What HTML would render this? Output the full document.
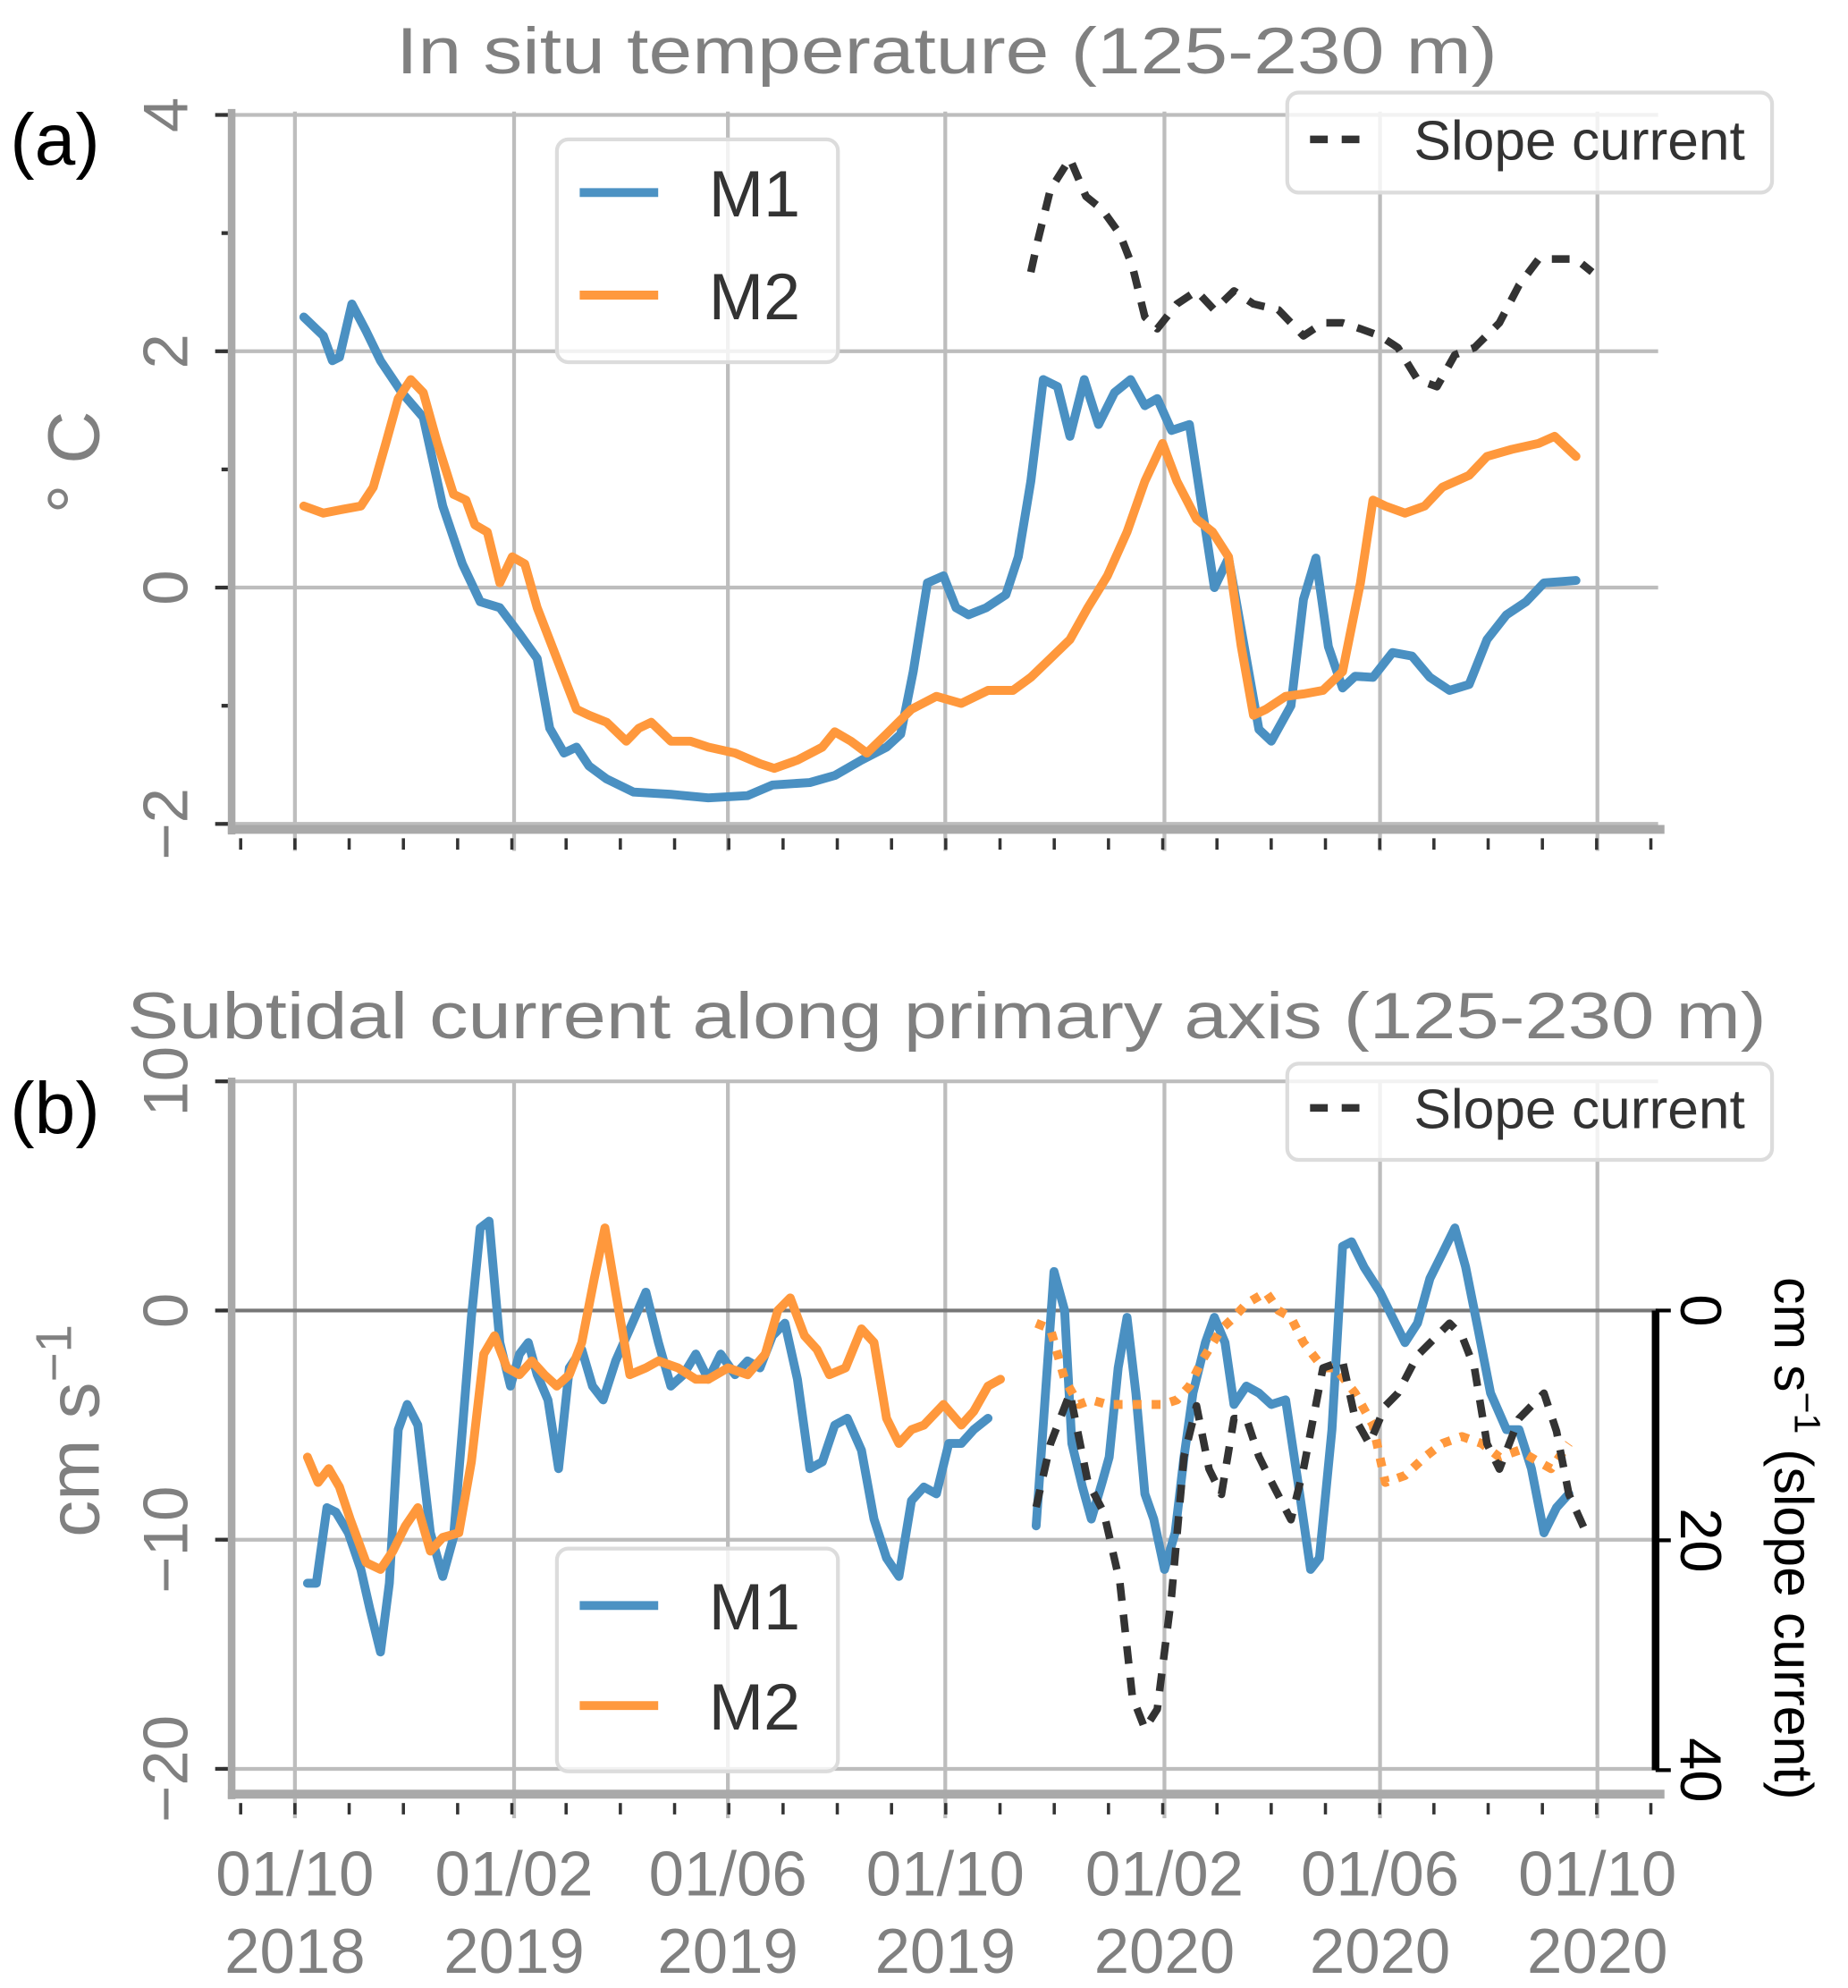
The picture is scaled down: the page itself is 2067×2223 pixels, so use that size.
<!DOCTYPE html>
<html><head><meta charset="utf-8"><style>
html,body{margin:0;padding:0;background:#fff}
svg{display:block;font-family:"Liberation Sans",Arial,sans-serif}
</style></head><body>
<svg id="chart" width="2067" height="2223" viewBox="0 0 1460 1570" xmlns="http://www.w3.org/2000/svg">
<rect x="0" y="0" width="1460" height="1570" fill="#fff"/>
<g id="grid"></g>
<g id="series"></g>
<g id="axes"></g>
<g id="labels">
<text x="748" y="58" font-size="52" fill="#808080" text-anchor="middle" textLength="870" lengthAdjust="spacingAndGlyphs">In situ temperature (125-230 m)</text>
<text x="748" y="820" font-size="52" fill="#808080" text-anchor="middle" textLength="1295" lengthAdjust="spacingAndGlyphs">Subtidal current along primary axis (125-230 m)</text>
<text x="8" y="130" font-size="58" fill="#000">(a)</text>
<text x="8" y="895" font-size="58" fill="#000">(b)</text>
<text transform="translate(78,365) rotate(-90)" font-size="58" fill="#808080" text-anchor="middle">° C</text>
<text transform="translate(78,1130) rotate(-90)" font-size="58" fill="#808080" text-anchor="middle">cm s<tspan dy="-22" font-size="40">−1</tspan></text>
<text transform="translate(1402,1215) rotate(90)" font-size="43" fill="#000" text-anchor="middle">cm s<tspan dy="-16" font-size="29">−1</tspan><tspan dy="16"> (slope current)</tspan></text>
</g>
<g id="legends">
<g>
<rect x="440" y="110" width="222" height="176" rx="9" fill="#fff" fill-opacity="0.8" stroke="#dcdcdc" stroke-width="3"/>
<line x1="458" y1="152" x2="520" y2="152" stroke="#4c92c3" stroke-width="7"/>
<text x="560" y="171" font-size="52" fill="#333">M1</text>
<line x1="458" y1="233" x2="520" y2="233" stroke="#ff993e" stroke-width="7"/>
<text x="560" y="252" font-size="52" fill="#333">M2</text>
</g>
<g>
<rect x="1017" y="73" width="383" height="79" rx="9" fill="#fff" fill-opacity="0.8" stroke="#dcdcdc" stroke-width="3"/>
<line x1="1035" y1="110" x2="1077" y2="110" stroke="#333" stroke-width="6" stroke-dasharray="14,11"/>
<text x="1117" y="126" font-size="44" fill="#333">Slope current</text>
</g>
<g>
<rect x="440" y="1223" width="222" height="176" rx="9" fill="#fff" fill-opacity="0.8" stroke="#dcdcdc" stroke-width="3"/>
<line x1="458" y1="1268" x2="520" y2="1268" stroke="#4c92c3" stroke-width="7"/>
<text x="560" y="1287" font-size="52" fill="#333">M1</text>
<line x1="458" y1="1347" x2="520" y2="1347" stroke="#ff993e" stroke-width="7"/>
<text x="560" y="1366" font-size="52" fill="#333">M2</text>
</g>
<g>
<rect x="1017" y="840" width="383" height="76" rx="9" fill="#fff" fill-opacity="0.8" stroke="#dcdcdc" stroke-width="3"/>
<line x1="1035" y1="875" x2="1077" y2="875" stroke="#333" stroke-width="6" stroke-dasharray="14,11"/>
<text x="1117" y="891" font-size="44" fill="#333">Slope current</text>
</g>
</g>
</svg>
<script>
// ---- data (days since 2018-10-01) ----
const xTickDays = [0,123,243,365,488,609,731];
const xTickTop = ["01/10","01/02","01/06","01/10","01/02","01/06","01/10"];
const xTickBottom = ["2018","2019","2019","2019","2020","2020","2020"];
const yTicksA = [4,2,0,-2];
const yTickLabelsA = ["4","2","0","−2"];
const yTicksB = [10,0,-10,-20];
const yTickLabelsB = ["10","0","−10","−20"];
const rightTicks = [0,20,40];

const m1TempDays = [5,16,21,25,32,40,48,60,72,83,94,104,115,126,136,143,151,158,165,175,190,211,232,254,268,289,303,318,332,340,347,355,364,371,378,388,399,406,413,420,428,435,443,451,460,469,477,484,492,502,509,516,524,534,541,548,559,566,573,580,588,595,605,616,627,637,648,659,669,680,691,701,719];
const m1Temp = [2.29,2.13,1.92,1.95,2.4,2.17,1.92,1.65,1.44,0.69,0.2,-0.12,-0.17,-0.39,-0.6,-1.19,-1.4,-1.35,-1.51,-1.62,-1.73,-1.75,-1.78,-1.76,-1.67,-1.65,-1.59,-1.46,-1.35,-1.24,-0.71,0.04,0.1,-0.17,-0.23,-0.17,-0.06,0.26,0.9,1.76,1.7,1.28,1.76,1.38,1.65,1.76,1.54,1.6,1.33,1.38,0.69,0.0,0.25,-0.6,-1.2,-1.3,-1.0,-0.1,0.25,-0.5,-0.85,-0.75,-0.76,-0.55,-0.58,-0.76,-0.87,-0.82,-0.44,-0.23,-0.12,0.04,0.06];
const m2TempDays = [5,16,26,37,44,51,58,65,72,80,89,96,101,108,115,122,129,136,147,158,165,175,186,193,200,211,222,232,247,261,269,282,296,303,312,321,332,346,360,374,389,403,413,424,435,445,456,467,477,487,495,506,515,524,531,538,545,556,566,577,588,598,605,612,623,634,644,659,669,683,698,707,719];
const m2Temp = [0.69,0.63,0.66,0.69,0.85,1.22,1.6,1.76,1.65,1.22,0.79,0.74,0.53,0.47,0.04,0.26,0.2,-0.17,-0.6,-1.03,-1.08,-1.14,-1.3,-1.19,-1.14,-1.3,-1.3,-1.35,-1.4,-1.49,-1.53,-1.46,-1.35,-1.22,-1.3,-1.4,-1.24,-1.03,-0.92,-0.98,-0.87,-0.87,-0.76,-0.6,-0.44,-0.17,0.1,0.47,0.9,1.22,0.9,0.58,0.47,0.26,-0.49,-1.08,-1.03,-0.92,-0.9,-0.87,-0.71,0.04,0.74,0.69,0.63,0.69,0.85,0.95,1.11,1.17,1.22,1.28,1.11];
const slopeADays = [413,417,424,435,444,453,463,470,477,484,495,506,516,527,538,552,566,577,588,598,609,619,630,641,651,662,676,687,698,708,719,728];
const slopeA = [2.67,2.94,3.37,3.63,3.31,3.2,2.99,2.72,2.29,2.19,2.4,2.51,2.35,2.51,2.4,2.35,2.13,2.24,2.24,2.19,2.13,2.03,1.76,1.7,1.97,2.03,2.24,2.56,2.78,2.78,2.78,2.67];

const m1CurDays1 = [7,12,18,23,30,37,42,48,53,58,63,69,76,83,89,94,99,104,109,115,121,126,131,136,142,148,154,161,167,173,180,188,197,204,211,218,225,232,239,247,254,261,268,275,282,289,296,303,310,318,325,332,339,346,353,360,367,374,381,389];
const m1Cur1 = [-11.9,-11.9,-8.6,-8.8,-9.7,-11.3,-13,-14.9,-11.9,-5.2,-4.1,-5,-9.7,-11.6,-9.9,-5.2,-0.3,3.6,3.9,-1.4,-3.3,-1.9,-1.4,-2.8,-3.9,-6.9,-2.5,-1.7,-3.3,-3.9,-2.2,-0.8,0.8,-1.4,-3.3,-2.8,-1.9,-3,-1.9,-2.8,-2.2,-2.5,-1.1,-0.55,-3,-6.9,-6.6,-5,-4.7,-6.1,-9.1,-10.8,-11.6,-8.3,-7.7,-8,-5.8,-5.8,-5.2,-4.7];
const m1CurDays2 = [416,421,426,432,436,442,447,453,457,462,467,472,477,482,488,494,499,504,511,516,522,527,534,541,548,556,563,570,575,582,588,593,600,609,616,623,630,637,644,651,657,664,671,680,687,694,701,708,715];
const m1Cur2 = [-9.4,-3.9,1.7,0,-5.8,-7.7,-9.1,-7.5,-6.4,-2.5,-0.3,-3.6,-8,-9.1,-11.3,-9.7,-6.4,-3.6,-1.4,-0.3,-1.4,-4.1,-3.3,-3.6,-4.1,-3.9,-7.5,-11.3,-10.8,-5.2,2.8,3,1.9,0.8,-0.3,-1.4,-0.55,1.4,2.5,3.6,1.9,-0.8,-3.6,-5.2,-5.2,-6.9,-9.7,-8.6,-8];
const m2CurDays1 = [7,13,19,25,31,40,48,55,62,69,76,83,92,99,106,112,119,126,133,140,147,154,161,168,174,180,188,197,204,215,225,232,243,254,264,271,278,286,293,300,309,318,325,332,339,346,353,364,374,381,389,396];
const m2Cur1 = [-6.4,-7.5,-6.9,-7.7,-9.1,-11,-11.3,-10.5,-9.4,-8.6,-10.5,-9.9,-9.7,-6.6,-1.9,-1.1,-2.5,-2.8,-2.2,-2.8,-3.3,-2.8,-1.4,1.4,3.6,0.8,-2.8,-2.5,-2.2,-2.5,-3,-3,-2.5,-2.8,-1.9,0,0.55,-1.1,-1.7,-2.8,-2.5,-0.8,-1.4,-4.7,-5.8,-5.2,-5,-4.1,-5,-4.4,-3.3,-3];
const m2CurDays2 = [416,424,432,440,447,456,467,477,487,495,502,509,520,527,534,545,552,559,566,577,584,595,605,612,623,634,644,655,666,676,687,698,705,715];
const m2Cur2 = [-0.55,-0.8,-3,-4.1,-3.9,-4.1,-4.1,-4.1,-4.1,-3.9,-3.3,-2.2,-0.8,-0.3,0.3,0.8,0,-0.3,-1.4,-2.5,-2.5,-3.6,-5,-7.5,-7.2,-6.4,-5.8,-5.5,-5.8,-6.4,-6.1,-6.6,-6.9,-5.8];
const slopeBDays = [416,424,435,445,454,463,470,477,484,492,499,506,513,520,527,534,541,548,559,566,577,588,595,603,612,619,630,641,648,655,662,669,676,687,694,701,708,715,726];
const slopeB = [17.1,11.6,7.2,14.9,17.6,23.7,33.6,36.4,34.7,24.8,12.7,8.3,13.8,16,9.4,9.4,12.7,14.9,18.2,13.8,5,4.4,9.4,11.6,8.3,7.2,3.9,2.2,1.1,2.2,5,11.6,13.8,9.4,8.3,7.2,10.5,16,19.8];

// ---- scales ----
const X0 = 233, PXDAY = 1.4077;
function xs(d){ return X0 + d*PXDAY; }
function ya(v){ return 464 - v*93.33; }
function yb(v){ return 1035 - v*18.1; }
function ys(s){ return 1035 + s*9.075; }

const NS = "http://www.w3.org/2000/svg";
function mk(tag, attrs, parent){
  const e = document.createElementNS(NS, tag);
  for (const k in attrs) e.setAttribute(k, attrs[k]);
  parent.appendChild(e); return e;
}
const grid = document.getElementById('grid');
const series = document.getElementById('series');
const axes = document.getElementById('axes');

// ---- grids ----
xTickDays.forEach((d,i)=>{
  const g1 = mk('line',{x1:xs(d),x2:xs(d),y1:88,y2:672,stroke:'#bdbdbd','stroke-width':3},grid);
  
  
  const g2 = mk('line',{x1:xs(d),x2:xs(d),y1:853,y2:1436,stroke:'#bdbdbd','stroke-width':3},grid);
  
  
});
yTicksA.forEach(v=>{
  const g = mk('line',{x1:176,x2:1310,y1:ya(v),y2:ya(v),stroke:'#bdbdbd','stroke-width':3},grid);
  
  
});
yTicksB.forEach(v=>{
  const g = mk('line',{x1:176,x2:1310,y1:yb(v),y2:yb(v),stroke: v===0?'#777':'#bdbdbd','stroke-width':3},grid);
  
  
});

// ---- series ----
function path(days, vals, yf, color, w, dash, name){
  let d = '';
  days.forEach((dd,i)=>{ d += (i?'L':'M') + xs(dd).toFixed(1) + ',' + yf(vals[i]).toFixed(1); });
  const p = mk('path',{d:d,fill:'none',stroke:color,'stroke-width':w,'stroke-linejoin':'round','stroke-linecap': dash?'butt':'round'},series);
  if (dash) p.setAttribute('stroke-dasharray', dash);
  
  
}
const BLUE = '#4a90c2', ORANGE = '#ff983c';
path(m1TempDays, m1Temp, ya, BLUE, 7, null, 'm1-temperature-line');
path(m2TempDays, m2Temp, ya, ORANGE, 7, null, 'm2-temperature-line');
path(slopeADays, slopeA, ya, '#333', 6, '14,11', 'slope-current-line-a');
path(m1CurDays1, m1Cur1, yb, BLUE, 7, null, 'm1-current-line-1');
path(m1CurDays2, m1Cur2, yb, BLUE, 7, null, 'm1-current-line-2');
path(m2CurDays1, m2Cur1, yb, ORANGE, 7, null, 'm2-current-line-1');
path(m2CurDays2, m2Cur2, yb, ORANGE, 7, '7,8', 'm2-current-line-2');
path(slopeBDays, slopeB, ys, '#333', 6, '14,11', 'slope-current-line-b');

// ---- axes (spines, ticks) ----
function spine(x1,y1,x2,y2,w,name){
  const l = mk('line',{x1:x1,y1:y1,x2:x2,y2:y2,stroke:'#a9a9a9','stroke-width':w},axes);
  
  
}
spine(183,86,183,659,6,'y-axis-a');
spine(180,655,1315,655,7,'x-axis-a');
spine(183,851,183,1421,6,'y-axis-b');
spine(180,1417,1315,1417,7,'x-axis-b');

for (let m=-1; m<=25; m++){
  const d = m*30.44;
  const x = xs(d);
  if (x < 186 || x > 1312) continue;
  [662,1424].forEach(y=>{
    const t = mk('line',{x1:x,x2:x,y1:y,y2:y+9,stroke:'#333','stroke-width':2.5},axes);
    
    
  });
}
yTicksA.forEach((v,i)=>{
  const t = mk('line',{x1:170,x2:180,y1:ya(v),y2:ya(v),stroke:'#333','stroke-width':3},axes);
  
  
  const lab = mk('text',{transform:`translate(148,${ya(v)}) rotate(-90)`,'font-size':50,fill:'#808080','text-anchor':'middle'},axes);
  lab.textContent = yTickLabelsA[i];
  
  
});
[3,1,-1].forEach(v=>{
  const t = mk('line',{x1:175,x2:180,y1:ya(v),y2:ya(v),stroke:'#333','stroke-width':3},axes);
  
  
});
yTicksB.forEach((v,i)=>{
  const t = mk('line',{x1:170,x2:180,y1:yb(v),y2:yb(v),stroke:'#333','stroke-width':3},axes);
  
  
  const lab = mk('text',{transform:`translate(148,${yb(v)}) rotate(-90)`,'font-size':50,fill:'#808080','text-anchor':'middle'},axes);
  lab.textContent = yTickLabelsB[i];
  
  
});
xTickDays.forEach((d,i)=>{
  const a = mk('text',{x:xs(d),y:1497,'font-size':50,fill:'#808080','text-anchor':'middle'},axes);
  a.textContent = xTickTop[i];
  
  
  const b = mk('text',{x:xs(d),y:1558,'font-size':50,fill:'#808080','text-anchor':'middle'},axes);
  b.textContent = xTickBottom[i];
  
  
});
const ra = mk('line',{x1:1308,x2:1308,y1:ys(0),y2:ys(40),stroke:'#000','stroke-width':6},axes);


rightTicks.forEach(v=>{
  const t = mk('line',{x1:1308,x2:1320,y1:ys(v),y2:ys(v),stroke:'#000','stroke-width':3},axes);
  
  
  const lab = mk('text',{transform:`translate(1328,${ys(v)}) rotate(90)`,'font-size':46,fill:'#000','text-anchor':'middle'},axes);
  lab.textContent = String(v);
  
  
});
</script>
</body></html>
